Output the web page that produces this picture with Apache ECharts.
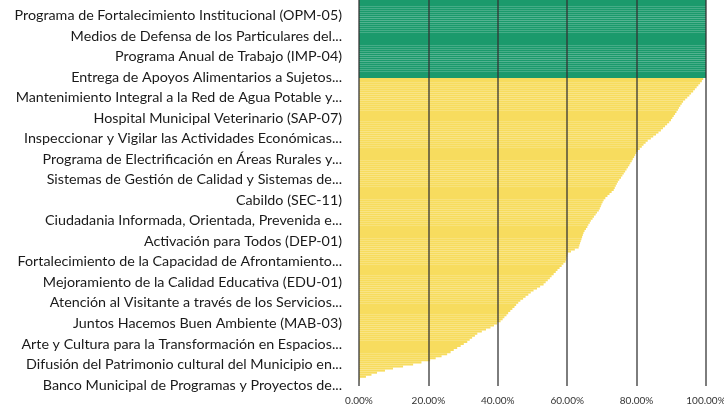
<!DOCTYPE html>
<html><head><meta charset="utf-8">
<script src="https://cdn.jsdelivr.net/npm/echarts@6/dist/echarts.min.js"></script>
<style>html,body{margin:0;padding:0;background:#fff}#c{width:724px;height:408px}</style>
</head><body><div id="c"></div>
<script>
// Labels shown on the category axis (every 10th category, from the bottom)
const shownLabels = [
  "Programa de Fortalecimiento Institucional (OPM-05)",
  "Medios de Defensa de los Particulares del...",
  "Programa Anual de Trabajo (IMP-04)",
  "Entrega de Apoyos Alimentarios a Sujetos...",
  "Mantenimiento Integral a la Red de Agua Potable y...",
  "Hospital Municipal Veterinario (SAP-07)",
  "Inspeccionar y Vigilar las Actividades Económicas...",
  "Programa de Electrificación en Áreas Rurales y...",
  "Sistemas de Gestión de Calidad y Sistemas de...",
  "Cabildo (SEC-11)",
  "Ciudadania Informada, Orientada, Prevenida e...",
  "Activación para Todos (DEP-01)",
  "Fortalecimiento de la Capacidad de Afrontamiento...",
  "Mejoramiento de la Calidad Educativa (EDU-01)",
  "Atención al Visitante a través de los Servicios...",
  "Juntos Hacemos Buen Ambiente (MAB-03)",
  "Arte y Cultura para la Transformación en Espacios...",
  "Difusión del Patrimonio cultural del Municipio en...",
  "Banco Municipal de Programas y Proyectos de..."
];
// Programs at 100% (green)
const completeValues = [
  100,100,100,100,100,100,100,100,100,100,
  100,100,100,100,100,100,100,100,100,100,
  100,100,100,100,100,100,100,100,100,100,
  100,100,100,100,100,100,100,100
];
// Programs below 100% (yellow), sorted descending
const partialValues = [
  99.2,98.8,98.3,97.8,
  97.3,96.8,96.3,95.7,
  95.2,94.6,94.0,93.4,
  93.0,92.6,92.2,91.9,
  91.5,91.1,90.7,90.3,89.9,
  89.4,88.8,88.2,87.6,87.0,
  86.3,85.6,84.8,84.1,83.2,
  82.6,82.0,81.5,80.9,80.3,
  79.9,79.6,79.3,78.9,78.6,
  78.2,77.9,77.5,
  77.1,76.7,76.3,75.9,75.5,75.0,74.6,
  74.3,74.0,73.7,73.4,
  72.8,72.2,71.6,71.0,70.5,
  70.2,69.9,69.7,69.4,69.1,
  68.6,68.2,67.7,67.3,66.8,
  66.5,66.1,65.8,65.4,65.0,64.7,
  64.5,64.3,64.1,63.9,63.7,63.5,63.3,
  62.2,61.1,60.1,
  60.0,59.8,59.7,59.5,
  58.9,58.4,57.8,57.2,56.7,56.1,
  55.5,55.0,54.4,53.8,53.2,
  52.2,51.3,50.3,
  49.5,48.8,48.0,47.3,46.5,
  45.9,45.3,44.8,44.2,43.6,
  43.0,42.5,41.9,41.4,40.8,
  39.8,38.9,37.9,
  36.6,35.4,34.1,
  33.4,32.6,31.9,31.2,
  30.2,29.3,28.3,
  27.3,26.4,25.4,
  23.8,22.1,20.5,
  18.0,15.6,
  12.7,9.8,
  7.5,5.2,
  3.6,2.0,0.3,
  0.1,0.05,0
];
const xTicks = [0,20,40,60,80,100];

const values = completeValues.concat(partialValues);
const N = values.length;
const axisData = [];
for (let i = 0; i < N; i++) {
  const fromBottom = N - 1 - i;
  if (fromBottom % 10 === 0) {
    const k = shownLabels.length - 1 - fromBottom / 10;
    axisData.push(k >= 0 ? shownLabels[k] : '');
  } else axisData.push('');
}
const GREEN = '#1b9a6c', YELLOW = '#f7dc5e';
const chart = echarts.init(document.getElementById('c'), null, {renderer: 'canvas'});
chart.setOption({
  animation: false,
  grid: {left: 359, right: 18, top: 0, bottom: 22, containLabel: false, outerBoundsMode: 'none'},
  xAxis: {
    type: 'value', min: 0, max: 100, interval: 20, z: 5,
    axisLine: {show: false}, axisTick: {show: false},
    splitLine: {show: true, lineStyle: {color: '#333', width: 1.5, opacity: 0.85}},
    axisLabel: {
      fontFamily: 'Lato', fontSize: 10, color: '#333', margin: 10,
      formatter: v => xTicks.includes(v) ? v.toFixed(2) + '%' : ''
    }
  },
  yAxis: {
    type: 'category', inverse: true, data: axisData,
    axisLine: {show: false}, axisTick: {show: false},
    axisLabel: {
      interval: (idx) => (N - 1 - idx) % 10 === 0,
      fontFamily: 'Lato', fontSize: 14.3, color: '#1a1a1a', margin: 17
    }
  },
  series: [{
    type: 'bar', data: values, barCategoryGap: '0%',
    itemStyle: {color: p => p.dataIndex < completeValues.length ? GREEN : YELLOW}
  }]
});
</script></body></html>
